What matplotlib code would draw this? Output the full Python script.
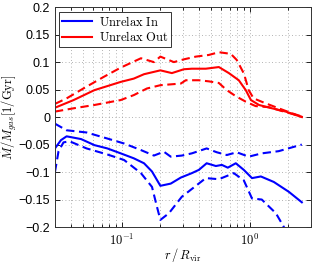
import matplotlib
matplotlib.use("Agg")
import matplotlib.pyplot as plt
from matplotlib.ticker import FuncFormatter, NullFormatter, LogLocator, FixedLocator

plt.rcParams['mathtext.fontset'] = 'cm'
plt.rcParams['font.family'] = ['Liberation Sans', 'DejaVu Sans']

# Red: Unrelax Out (mean, upper, lower)
r_out = [0.03, 0.042, 0.061, 0.098, 0.124, 0.149, 0.2, 0.246, 0.305, 0.352, 0.453, 0.573,
         0.686, 0.82, 0.93, 1.02, 1.18, 1.49, 1.91, 2.55]
out_mid = [0.017, 0.031, 0.049, 0.064, 0.070, 0.078, 0.085, 0.080, 0.087, 0.088, 0.088, 0.091,
           0.080, 0.067, 0.049, 0.031, 0.022, 0.016, 0.010, 0.0]
r_out_hi = [0.03, 0.037, 0.050, 0.072, 0.098, 0.141, 0.178, 0.2, 0.255, 0.305, 0.379, 0.478,
            0.573, 0.71, 0.79, 0.90, 0.98, 1.07, 1.33, 1.68, 2.13, 2.64]
out_hi = [0.024, 0.034, 0.052, 0.073, 0.090, 0.107, 0.100, 0.110, 0.100, 0.105, 0.110, 0.113,
          0.118, 0.115, 0.104, 0.079, 0.049, 0.034, 0.025, 0.016, 0.007, 0.0]
r_out_lo = [0.03, 0.042, 0.061, 0.098, 0.124, 0.157, 0.2, 0.289, 0.316, 0.4, 0.478, 0.573,
            0.661, 0.777, 0.93, 1.11, 1.41, 1.78, 2.29, 2.59]
out_lo = [0.010, 0.016, 0.022, 0.031, 0.040, 0.052, 0.058, 0.061, 0.067, 0.067, 0.065, 0.062,
          0.049, 0.038, 0.028, 0.020, 0.018, 0.011, 0.004, 0.0]

# Blue: Unrelax In (mean, upper, lower)
r_in = [0.03, 0.0334, 0.037, 0.048, 0.061, 0.077, 0.098, 0.124, 0.149, 0.172, 0.2, 0.241,
        0.289, 0.352, 0.4, 0.46, 0.543, 0.605, 0.673, 0.777, 0.897, 1.04, 1.22, 1.54, 2.02, 2.55]
in_mid = [-0.057, -0.042, -0.035, -0.040, -0.051, -0.057, -0.066, -0.075, -0.084, -0.099,
          -0.125, -0.121, -0.110, -0.102, -0.096, -0.084, -0.089, -0.087, -0.092, -0.084,
          -0.096, -0.111, -0.108, -0.118, -0.136, -0.155]
r_in_hi = [0.03, 0.037, 0.053, 0.077, 0.104, 0.141, 0.178, 0.213, 0.241, 0.294, 0.352, 0.46,
           0.552, 0.661, 0.79, 0.98, 1.24, 1.68, 2.55]
in_hi = [-0.012, -0.024, -0.028, -0.039, -0.048, -0.060, -0.070, -0.063, -0.072, -0.070,
         -0.066, -0.057, -0.064, -0.069, -0.064, -0.072, -0.066, -0.062, -0.050]
r_in_lo = [0.03, 0.032, 0.035, 0.039, 0.053, 0.077, 0.104, 0.141, 0.172, 0.188, 0.2, 0.233,
           0.294, 0.453, 0.573, 0.75, 0.897, 1.04, 1.24, 1.6, 1.9]
in_lo = [-0.100, -0.062, -0.046, -0.044, -0.057, -0.068, -0.078, -0.102, -0.127, -0.163,
         -0.187, -0.175, -0.145, -0.111, -0.113, -0.102, -0.115, -0.148, -0.150, -0.175, -0.205]

y_ticks = [-0.2, -0.15, -0.1, -0.05, 0, 0.05, 0.1, 0.15, 0.2]
x_ticks = [0.1, 1.0]
x_tick_labels = [r'$10^{-1}$', r'$10^{0}$']

blue = '#0000ff'
red = '#ff0000'
dash = (0, (4, 2.2))
lw = 1.5

fig = plt.figure(figsize=(3.14, 2.64), dpi=100)
ax = fig.add_axes([0.175, 0.14, 0.815, 0.833])

ax.plot(r_in, in_mid, color=blue, lw=lw, label=r'$\mathrm{Unrelax\ In}$')
ax.plot(r_out, out_mid, color=red, lw=lw, label=r'$\mathrm{Unrelax\ Out}$')
ax.plot(r_out_hi, out_hi, color=red, lw=lw, ls=dash)
ax.plot(r_out_lo, out_lo, color=red, lw=lw, ls=dash)
ax.plot(r_in_hi, in_hi, color=blue, lw=lw, ls=dash)
ax.plot(r_in_lo, in_lo, color=blue, lw=lw, ls=dash)

ax.set_xscale('log')
ax.set_xlim(0.03, 3)
ax.set_ylim(-0.2, 0.2)
ax.xaxis.set_major_locator(FixedLocator(x_ticks))
ax.set_xticklabels(x_tick_labels)
ax.xaxis.set_minor_locator(LogLocator(base=10, subs=range(2, 10)))
ax.xaxis.set_minor_formatter(NullFormatter())
ax.set_yticks(y_ticks)
ax.yaxis.set_major_formatter(FuncFormatter(lambda v, p: format(round(v, 3), 'g').replace('-', '\u2212')))

grid_ls = (0, (1, 3))
ax.grid(True, which='both', axis='x', color='#9a9a9a', ls=grid_ls, lw=0.6)
ax.grid(True, which='major', axis='y', color='#9a9a9a', ls=grid_ls, lw=0.6)
ax.tick_params(which='both', direction='in', top=True, right=True, labelsize=9, width=0.6)
ax.tick_params(which='major', length=3.5)
ax.tick_params(which='minor', length=2)
ax.tick_params(axis='x', pad=4)
for s in ax.spines.values():
    s.set_linewidth(0.7)
    s.set_color('#333333')

ax.set_xlabel(r'$r\,/\,R_{\rm vir}$', fontsize=9)
ax.xaxis.set_label_coords(0.5, -0.085)
ax.set_ylabel(r'$\dot{M}/M_{gas}[1/\mathrm{Gyr}]$', fontsize=9, labelpad=0)

leg = ax.legend(loc='upper left', fontsize=9, handlelength=2.4, handletextpad=0.5,
                borderpad=0.25, labelspacing=0.1, fancybox=False, framealpha=1,
                borderaxespad=0.35)
leg.get_frame().set_edgecolor('#333333')
leg.get_frame().set_linewidth(0.7)

fig.savefig('out.png', dpi=100)
